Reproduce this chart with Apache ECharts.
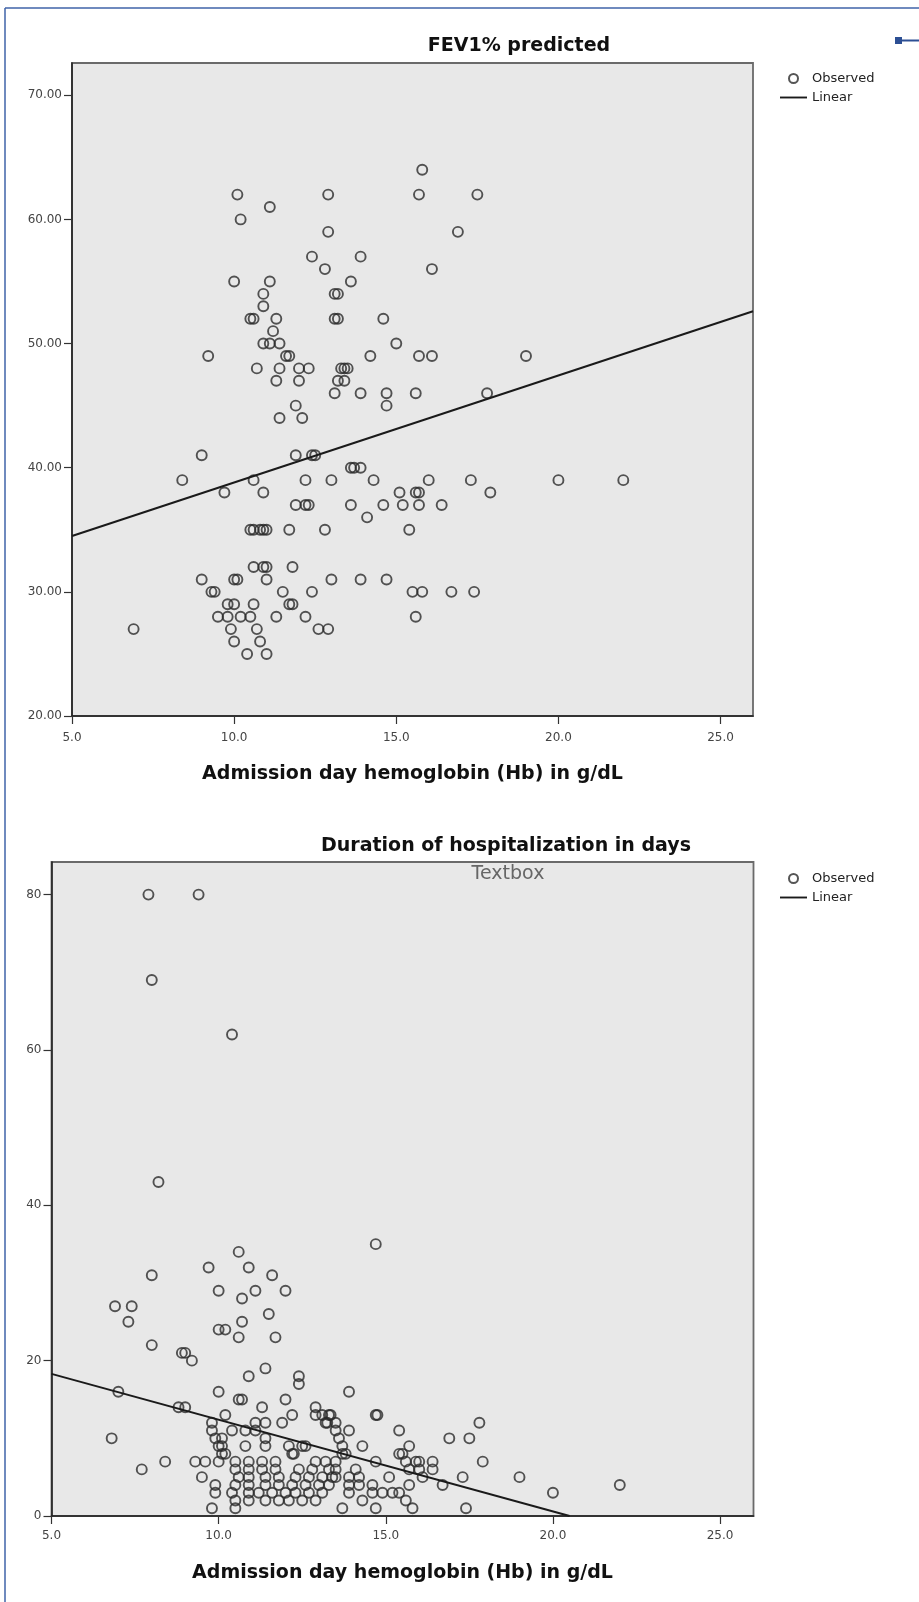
<!DOCTYPE html>
<html>
<head>
<meta charset="utf-8">
<script src="https://cdn.jsdelivr.net/npm/echarts@6/dist/echarts.min.js"></script>
<style>
html,body{margin:0;padding:0;background:#fff;}
#c{width:919px;height:1602px;}
</style>
</head>
<body>
<div id="c"></div>
<script>
// ---- tick labels ----
const xTicks = [5, 10, 15, 20, 25];
const fevTicks = [20, 30, 40, 50, 60, 70];
const hospTicks = [0, 20, 40, 60, 80];

// ---- titles ----
const fevTitle = 'FEV1% predicted';
const hospTitle = 'Duration of hospitalization in days';
const xTitle = 'Admission day hemoglobin (Hb) in g/dL';
const legendNames = ['Observed', 'Linear'];

// ---- FEV1% predicted vs Hb : [Hb, FEV1%] ----
const fevObserved = [
  [15.8,64],
  [10.1,62],[12.9,62],[15.7,62],[17.5,62],
  [11.1,61],[10.2,60],
  [12.9,59],[16.9,59],
  [12.4,57],[13.9,57],
  [12.8,56],[16.1,56],
  [10.0,55],[11.1,55],[13.6,55],
  [10.9,54],[13.1,54],[13.2,54],
  [10.9,53],
  [10.5,52],[10.6,52],[11.3,52],[13.1,52],[13.2,52],[14.6,52],
  [11.2,51],
  [10.9,50],[11.1,50],[11.4,50],[15.0,50],
  [9.2,49],[11.6,49],[11.7,49],[14.2,49],[15.7,49],[16.1,49],[19.0,49],
  [10.7,48],[11.4,48],[12.0,48],[12.3,48],[13.3,48],[13.4,48],[13.5,48],
  [11.3,47],[12.0,47],[13.2,47],[13.4,47],
  [13.1,46],[13.9,46],[14.7,46],[15.6,46],[17.8,46],
  [11.9,45],[14.7,45],
  [11.4,44],[12.1,44],
  [9.0,41],[11.9,41],[12.4,41],[12.5,41],
  [13.6,40],[13.7,40],[13.9,40],
  [8.4,39],[10.6,39],[12.2,39],[13.0,39],[14.3,39],[16.0,39],[17.3,39],[20.0,39],[22.0,39],
  [9.7,38],[10.9,38],[15.1,38],[15.6,38],[15.7,38],[17.9,38],
  [11.9,37],[12.2,37],[12.3,37],[13.6,37],[14.6,37],[15.2,37],[15.7,37],[16.4,37],
  [14.1,36],
  [10.5,35],[10.6,35],[10.8,35],[10.9,35],[11.0,35],[11.7,35],[12.8,35],[15.4,35],
  [10.6,32],[10.9,32],[11.0,32],[11.8,32],
  [9.0,31],[10.0,31],[10.1,31],[11.0,31],[13.0,31],[13.9,31],[14.7,31],
  [9.3,30],[9.4,30],[11.5,30],[12.4,30],[15.5,30],[15.8,30],[16.7,30],[17.4,30],
  [9.8,29],[10.0,29],[10.6,29],[11.7,29],[11.8,29],
  [9.5,28],[9.8,28],[10.2,28],[10.5,28],[11.3,28],[12.2,28],[15.6,28],
  [6.9,27],[9.9,27],[10.7,27],[12.6,27],[12.9,27],
  [10.0,26],[10.8,26],
  [10.4,25],[11.0,25]
];
const fevLinear = [[5, 34.5], [26, 52.6]];

// ---- Duration of hospitalization vs Hb : [Hb, days] ----
const hospObserved = [
  [7.9,80],[9.4,80],
  [8.0,69],
  [10.4,62],
  [8.2,43],
  [14.7,35],
  [10.6,34],
  [9.7,32],[10.9,32],
  [8.0,31],[11.6,31],
  [10.0,29],[11.1,29],[12.0,29],
  [10.7,28],
  [6.9,27],[7.4,27],
  [11.5,26],
  [7.3,25],[10.7,25],
  [10.0,24],[10.2,24],
  [10.6,23],[11.7,23],
  [8.0,22],
  [8.9,21],[9.0,21],
  [9.2,20],
  [11.4,19],
  [10.9,18],[12.4,18],
  [12.4,17],
  [7.0,16],[10.0,16],[13.9,16],
  [10.6,15],[10.7,15],[12.0,15],
  [8.8,14],[9.0,14],[11.3,14],[12.9,14],
  [10.2,13],[12.2,13],[12.9,13],[13.1,13],[13.3,13],[13.35,13],[14.7,13],[14.75,13],
  [9.8,12],[11.1,12],[11.4,12],[11.9,12],[13.2,12],[13.25,12],[13.5,12],[17.8,12],
  [9.8,11],[10.4,11],[10.8,11],[11.1,11],[13.5,11],[13.9,11],[15.4,11],
  [6.8,10],[9.9,10],[10.1,10],[11.4,10],[13.6,10],[16.9,10],[17.5,10],
  [10.0,9],[10.1,9],[10.8,9],[11.4,9],[12.1,9],[12.5,9],[12.6,9],[13.7,9],[14.3,9],[15.7,9],
  [10.1,8],[10.2,8],[12.2,8],[12.25,8],[13.7,8],[13.8,8],[15.4,8],[15.5,8],
  [8.4,7],[9.3,7],[9.6,7],[10.0,7],[10.5,7],[10.9,7],[11.3,7],[11.7,7],[12.9,7],[13.2,7],[13.5,7],[14.7,7],[15.6,7],[15.9,7],[16.0,7],[16.4,7],[17.9,7],
  [7.7,6],[10.5,6],[10.9,6],[11.3,6],[11.7,6],[12.4,6],[12.8,6],[13.3,6],[13.5,6],[14.1,6],[15.7,6],[16.0,6],[16.4,6],
  [9.5,5],[10.6,5],[10.9,5],[11.4,5],[11.8,5],[12.3,5],[12.7,5],[13.1,5],[13.4,5],[13.5,5],[13.9,5],[14.2,5],[15.1,5],[16.1,5],[17.3,5],[19.0,5],
  [9.9,4],[10.5,4],[10.9,4],[11.4,4],[11.8,4],[12.2,4],[12.6,4],[13.0,4],[13.3,4],[13.9,4],[14.2,4],[14.6,4],[15.7,4],[16.7,4],[22.0,4],
  [9.9,3],[10.4,3],[10.9,3],[11.2,3],[11.6,3],[12.0,3],[12.3,3],[12.7,3],[13.1,3],[13.9,3],[14.6,3],[14.9,3],[15.2,3],[15.4,3],[20.0,3],
  [10.5,2],[10.9,2],[11.4,2],[11.8,2],[12.1,2],[12.5,2],[12.9,2],[14.3,2],[15.6,2],
  [9.8,1],[10.5,1],[13.7,1],[14.7,1],[15.8,1],[17.4,1]
];
const hospLinear = [[5, 18.3], [20.5, 0]];

// ---- chart ----
const FONT = 'DejaVu Sans';
const chart = echarts.init(document.getElementById('c'), null, {renderer: 'canvas'});

function xAxisCfg(gridIndex, nameGap, labelMargin) {
  return {
    type: 'value', gridIndex: gridIndex, min: 5, max: 26,
    name: xTitle, nameLocation: 'middle', nameGap: nameGap,
    nameTextStyle: {fontFamily: FONT, fontWeight: 'bold', fontSize: 19, color: '#111'},
    axisLine: {show: true, onZero: false, lineStyle: {color: '#222', width: 1.6}},
    axisTick: {show: true, customValues: xTicks, length: 8, lineStyle: {color: '#333', width: 1.2}},
    axisLabel: {show: true, customValues: xTicks, formatter: v => Number(v).toFixed(1),
      fontFamily: FONT, fontSize: 12, color: '#444', margin: labelMargin},
    splitLine: {show: false}
  };
}
function yAxisCfg(gridIndex, min, max, ticks, fmt, labelMargin) {
  return {
    type: 'value', gridIndex: gridIndex, min: min, max: max,
    axisLine: {show: true, onZero: false, lineStyle: {color: '#222', width: 1.6}},
    axisTick: {show: true, customValues: ticks, length: 8, lineStyle: {color: '#333', width: 1.2}},
    axisLabel: {show: true, customValues: ticks, formatter: fmt,
      fontFamily: FONT, fontSize: 12, color: '#444', margin: labelMargin},
    splitLine: {show: false}
  };
}
const gridStyle = {show: true, backgroundColor: '#e8e8e8', borderColor: '#6a6a6a', borderWidth: 1.8};
const scatterStyle = {color: 'rgba(0,0,0,0)', borderColor: '#2a2a2a', borderWidth: 1.9};
const lineStyle = {color: '#1a1a1a', width: 2};
const lineItem = {color: '#1a1a1a'};
const legendBase = {
  orient: 'vertical', left: 775, itemWidth: 27, itemHeight: 9, itemGap: 6,
  textStyle: {fontFamily: FONT, fontSize: 13, color: '#222'},
  selectedMode: false,
  data: [
    {name: legendNames[0], icon: 'circle'},
    {name: legendNames[1], icon: 'path://M0,0L100,0L100,7L0,7Z',
      itemStyle: {color: '#1a1a1a', borderWidth: 0}}
  ]
};

const option = {
  animation: false,
  backgroundColor: '#ffffff',
  grid: [
    Object.assign({left: 72, top: 63, width: 681, height: 653}, gridStyle),
    Object.assign({left: 51.5, top: 862, width: 702, height: 654}, gridStyle)
  ],
  xAxis: [xAxisCfg(0, 49, 16), xAxisCfg(1, 48, 14)],
  yAxis: [
    yAxisCfg(0, 20, 72.6, fevTicks, v => Number(v).toFixed(2), 10),
    yAxisCfg(1, 0, 84.2, hospTicks, v => String(v), 10)
  ],
  legend: [
    Object.assign({top: 67}, legendBase),
    Object.assign({top: 867}, legendBase)
  ],
  series: [
    {type: 'scatter', name: 'Observed', xAxisIndex: 0, yAxisIndex: 0, data: fevObserved,
      symbol: 'circle', symbolSize: 10, itemStyle: scatterStyle, z: 3},
    {type: 'line', name: 'Linear', xAxisIndex: 0, yAxisIndex: 0, data: fevLinear,
      symbol: 'none', showSymbol: false, itemStyle: lineItem, lineStyle: lineStyle, z: 4},
    {type: 'scatter', name: 'Observed', xAxisIndex: 1, yAxisIndex: 1, data: hospObserved,
      symbol: 'circle', symbolSize: 10, itemStyle: scatterStyle, z: 3},
    {type: 'line', name: 'Linear', xAxisIndex: 1, yAxisIndex: 1, data: hospLinear,
      symbol: 'none', showSymbol: false, itemStyle: lineItem, lineStyle: lineStyle, z: 4}
  ],
  graphic: [
    {type: 'line', shape: {x1: 5, y1: 8, x2: 5, y2: 1602}, style: {stroke: '#3f63a8', lineWidth: 1.5}},
    {type: 'line', shape: {x1: 5, y1: 8, x2: 919, y2: 8}, style: {stroke: '#3f63a8', lineWidth: 1.5}},
    {type: 'rect', shape: {x: 895, y: 37, width: 7, height: 7}, style: {fill: '#2c4f94'}},
    {type: 'line', shape: {x1: 902, y1: 40.5, x2: 919, y2: 40.5}, style: {stroke: '#2c4f94', lineWidth: 2}},
    {type: 'text', x: 519, y: 46, style: {text: fevTitle, fontFamily: FONT, fontWeight: 'bold', fontSize: 19,
      fill: '#111', align: 'center', verticalAlign: 'middle'}},
    {type: 'text', x: 506, y: 846, style: {text: hospTitle, fontFamily: FONT, fontWeight: 'bold', fontSize: 19,
      fill: '#111', align: 'center', verticalAlign: 'middle'}},
    {type: 'text', x: 508, y: 874, z: 10, style: {text: 'Textbox', fontFamily: FONT, fontSize: 19,
      fill: '#666', align: 'center', verticalAlign: 'middle'}}
  ]
};
chart.setOption(option);
</script>
</body>
</html>
